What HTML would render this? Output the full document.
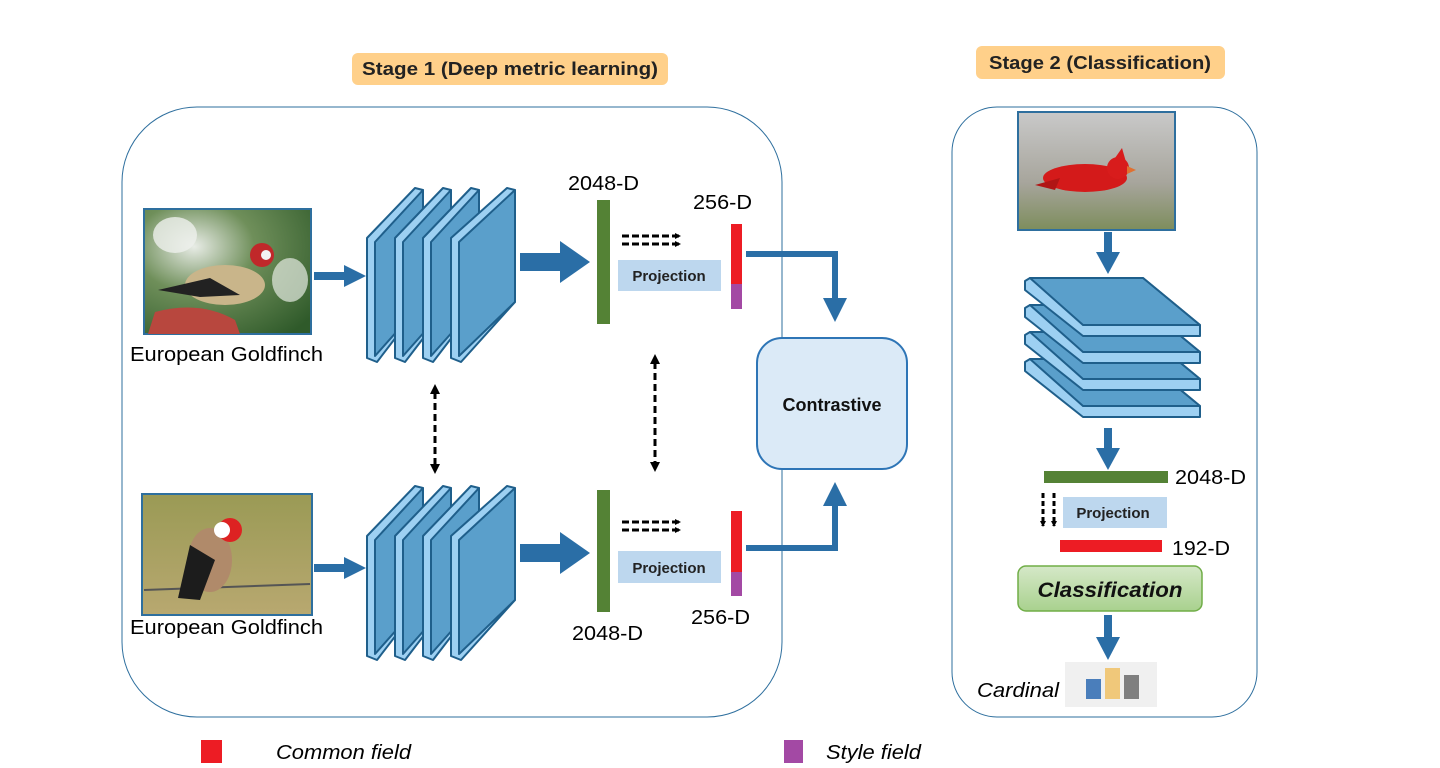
<!DOCTYPE html>
<html><head><meta charset="utf-8"><style>
html,body{margin:0;padding:0;background:#fff;}
svg{display:block;font-family:"Liberation Sans",sans-serif;}
</style></head><body>
<svg width="1440" height="768" viewBox="0 0 1440 768" xmlns="http://www.w3.org/2000/svg">
<defs>
<marker id="ah" markerWidth="6" markerHeight="6" refX="5" refY="3" orient="auto" markerUnits="userSpaceOnUse"><path d="M0,0 L6,3 L0,6z" fill="#000"/></marker>
<radialGradient id="g1" cx="0.3" cy="0.3" r="0.9"><stop offset="0" stop-color="#e8ece6"/><stop offset="0.4" stop-color="#6f8f5a"/><stop offset="1" stop-color="#2f5a2a"/></radialGradient>
<linearGradient id="g2" x1="0" y1="0" x2="0" y2="1"><stop offset="0" stop-color="#9a9a55"/><stop offset="1" stop-color="#b8a870"/></linearGradient>
<linearGradient id="g3" x1="0" y1="0" x2="0" y2="1"><stop offset="0" stop-color="#c9c9c9"/><stop offset="0.6" stop-color="#a7a59c"/><stop offset="1" stop-color="#7d8d5c"/></linearGradient>
<linearGradient id="gc" x1="0" y1="0" x2="0" y2="1"><stop offset="0" stop-color="#d5e8c8"/><stop offset="1" stop-color="#a9d18e"/></linearGradient>
</defs>

<rect x="352" y="53" width="316" height="32" rx="6" fill="#ffd08a"/>
<text x="510" y="75" font-size="18" font-weight="bold" text-anchor="middle" fill="#222" textLength="296" lengthAdjust="spacingAndGlyphs">Stage 1 (Deep metric learning)</text>
<rect x="976" y="46" width="249" height="33" rx="6" fill="#ffd08a"/>
<text x="1100" y="69" font-size="18" font-weight="bold" text-anchor="middle" fill="#222" textLength="222" lengthAdjust="spacingAndGlyphs">Stage 2 (Classification)</text>

<rect x="122" y="107" width="660" height="610" rx="75" fill="none" stroke="#2e6f9e" stroke-width="1"/>
<rect x="952" y="107" width="305" height="610" rx="45" fill="none" stroke="#2e6f9e" stroke-width="1"/>

<rect x="144" y="209" width="167" height="125" fill="url(#g1)" stroke="#2e6f9e" stroke-width="2"/>
<ellipse cx="175" cy="235" rx="22" ry="18" fill="#eef0ec" opacity="0.8"/>
<ellipse cx="290" cy="280" rx="18" ry="22" fill="#e6ebe2" opacity="0.7"/>
<path d="M148,334 L155,312 Q200,300 235,320 L240,334z" fill="#b8473e"/>
<ellipse cx="225" cy="285" rx="40" ry="20" fill="#c9b58a"/>
<path d="M158,290 L210,278 L240,295 L200,297z" fill="#222"/>
<circle cx="262" cy="255" r="12" fill="#c0282a"/>
<circle cx="266" cy="255" r="5" fill="#f2f2f2"/>
<text x="130" y="361" font-size="20" fill="#000" textLength="193" lengthAdjust="spacingAndGlyphs">European Goldfinch</text>

<rect x="142" y="494" width="170" height="121" fill="url(#g2)" stroke="#2e6f9e" stroke-width="2"/>
<line x1="144" y1="590" x2="310" y2="584" stroke="#555" stroke-width="2"/>
<ellipse cx="210" cy="560" rx="22" ry="32" fill="#b08a6a"/>
<path d="M190,545 L215,560 L200,600 L178,598z" fill="#1c1c1c"/>
<circle cx="230" cy="530" r="12" fill="#d22"/>
<circle cx="222" cy="530" r="8" fill="#fff"/>
<text x="130" y="634" font-size="20" fill="#000" textLength="193" lengthAdjust="spacingAndGlyphs">European Goldfinch</text>

<g fill="#2a6ea6">
<rect x="314" y="272" width="32" height="8"/><path d="M344,265 L366,276 L344,287z"/>
<rect x="314" y="564" width="32" height="8"/><path d="M344,557 L366,568 L344,579z"/>
</g>

<g id="stack" stroke="#1f5f8b" stroke-width="2" stroke-linejoin="round">
<g transform="translate(367,186)">
<path d="M0,52 L48,2 L56,4 L56,116 L10,176 L0,172z" fill="#9dd0f2"/><path d="M8,56 L56,4 L56,116 L8,170z" fill="#5a9fcb"/></g>
<g transform="translate(395,186)">
<path d="M0,52 L48,2 L56,4 L56,116 L10,176 L0,172z" fill="#9dd0f2"/><path d="M8,56 L56,4 L56,116 L8,170z" fill="#5a9fcb"/></g>
<g transform="translate(423,186)">
<path d="M0,52 L48,2 L56,4 L56,116 L10,176 L0,172z" fill="#9dd0f2"/><path d="M8,56 L56,4 L56,116 L8,170z" fill="#5a9fcb"/></g>
<g transform="translate(451,186)">
<path d="M0,52 L56,2 L64,4 L64,116 L10,176 L0,172z" fill="#9dd0f2"/><path d="M8,56 L64,4 L64,116 L8,170z" fill="#5a9fcb"/></g>
</g>
<use href="#stack" transform="translate(0,298)"/>

<g fill="#2a6ea6">
<rect x="520" y="253" width="42" height="18"/><path d="M560,241 L590,262 L560,283z"/>
<rect x="520" y="544" width="42" height="18"/><path d="M560,532 L590,553 L560,574z"/>
</g>

<rect x="597" y="200" width="13" height="124" fill="#548235"/>
<text x="568" y="190" font-size="20" textLength="71" lengthAdjust="spacingAndGlyphs">2048-D</text>
<line x1="622" y1="236" x2="680" y2="236" stroke="#000" stroke-width="3" stroke-dasharray="7,3" marker-end="url(#ah)"/>
<line x1="622" y1="244" x2="680" y2="244" stroke="#000" stroke-width="3" stroke-dasharray="7,3" marker-end="url(#ah)"/>
<rect x="618" y="260" width="103" height="31" fill="#bdd7ee"/>
<text x="669" y="281" font-size="15" font-weight="bold" text-anchor="middle" fill="#222">Projection</text>
<rect x="731" y="224" width="11" height="60" fill="#ed1c24"/><rect x="731" y="284" width="11" height="25" fill="#a349a4"/>
<text x="693" y="209" font-size="20" textLength="59" lengthAdjust="spacingAndGlyphs">256-D</text>
<path d="M746,254 L835,254 L835,302" fill="none" stroke="#2a6ea6" stroke-width="6"/>
<path d="M823,298 L835,322 L847,298z" fill="#2a6ea6"/>

<rect x="597" y="490" width="13" height="122" fill="#548235"/>
<text x="572" y="640" font-size="20" textLength="71" lengthAdjust="spacingAndGlyphs">2048-D</text>
<line x1="622" y1="522" x2="680" y2="522" stroke="#000" stroke-width="3" stroke-dasharray="7,3" marker-end="url(#ah)"/>
<line x1="622" y1="530" x2="680" y2="530" stroke="#000" stroke-width="3" stroke-dasharray="7,3" marker-end="url(#ah)"/>
<rect x="618" y="551" width="103" height="32" fill="#bdd7ee"/>
<text x="669" y="573" font-size="15" font-weight="bold" text-anchor="middle" fill="#222">Projection</text>
<rect x="731" y="511" width="11" height="61" fill="#ed1c24"/><rect x="731" y="572" width="11" height="24" fill="#a349a4"/>
<text x="691" y="624" font-size="20" textLength="59" lengthAdjust="spacingAndGlyphs">256-D</text>
<path d="M746,548 L835,548 L835,502" fill="none" stroke="#2a6ea6" stroke-width="6"/>
<path d="M823,506 L835,482 L847,506z" fill="#2a6ea6"/>

<rect x="757" y="338" width="150" height="131" rx="25" fill="#dbeaf7" stroke="#2e75b6" stroke-width="2"/>
<text x="832" y="411" font-size="18" font-weight="bold" text-anchor="middle" fill="#111">Contrastive</text>

<g stroke="#000" stroke-width="3" stroke-dasharray="7,4">
<line x1="435" y1="392" x2="435" y2="466"/>
<line x1="655" y1="362" x2="655" y2="464"/>
</g>
<g fill="#000">
<path d="M430,394 L435,384 L440,394z"/><path d="M430,464 L435,474 L440,464z"/>
<path d="M650,364 L655,354 L660,364z"/><path d="M650,462 L655,472 L660,462z"/>
</g>

<rect x="1018" y="112" width="157" height="118" fill="url(#g3)" stroke="#2e6f9e" stroke-width="2"/>
<ellipse cx="1085" cy="178" rx="42" ry="14" fill="#d41a1a"/>
<path d="M1035,185 L1060,178 L1055,190z" fill="#b01515"/>
<circle cx="1118" cy="168" r="11" fill="#d81c1c"/>
<path d="M1115,158 L1122,148 L1126,162z" fill="#d81c1c"/>
<path d="M1127,166 L1136,170 L1127,174z" fill="#e07030"/>
<g fill="#2a6ea6">
<rect x="1104" y="232" width="8" height="22"/><path d="M1096,252 L1108,274 L1120,252z"/>
<rect x="1104" y="428" width="8" height="22"/><path d="M1096,448 L1108,470 L1120,448z"/>
<rect x="1104" y="615" width="8" height="24"/><path d="M1096,637 L1108,660 L1120,637z"/>
</g>
<g stroke="#1f5f8b" stroke-width="2" stroke-linejoin="round">
<path d="M1025,362 L1030,359 L1143,359 L1200,406 L1200,417 L1083,417 L1025,371z" fill="#9dd0f2"/>
<path d="M1030,359 L1143,359 L1200,406 L1083,406z" fill="#5a9fcb"/>
<path d="M1025,335 L1030,332 L1143,332 L1200,379 L1200,390 L1083,390 L1025,344z" fill="#9dd0f2"/>
<path d="M1030,332 L1143,332 L1200,379 L1083,379z" fill="#5a9fcb"/>
<path d="M1025,308 L1030,305 L1143,305 L1200,352 L1200,363 L1083,363 L1025,317z" fill="#9dd0f2"/>
<path d="M1030,305 L1143,305 L1200,352 L1083,352z" fill="#5a9fcb"/>
<path d="M1025,281 L1030,278 L1143,278 L1200,325 L1200,336 L1083,336 L1025,290z" fill="#9dd0f2"/>
<path d="M1030,278 L1143,278 L1200,325 L1083,325z" fill="#5a9fcb"/>
</g>

<rect x="1044" y="471" width="124" height="12" fill="#548235"/>
<text x="1175" y="484" font-size="20" textLength="71" lengthAdjust="spacingAndGlyphs">2048-D</text>
<line x1="1043" y1="493" x2="1043" y2="526" stroke="#000" stroke-width="3" stroke-dasharray="5,3" marker-end="url(#ah)"/>
<line x1="1054" y1="493" x2="1054" y2="526" stroke="#000" stroke-width="3" stroke-dasharray="5,3" marker-end="url(#ah)"/>
<rect x="1063" y="497" width="104" height="31" fill="#bdd7ee"/>
<text x="1113" y="518" font-size="15" font-weight="bold" text-anchor="middle" fill="#222">Projection</text>
<rect x="1060" y="540" width="102" height="12" fill="#ed1c24"/>
<text x="1172" y="555" font-size="20" textLength="58" lengthAdjust="spacingAndGlyphs">192-D</text>
<rect x="1018" y="566" width="184" height="45" rx="8" fill="url(#gc)" stroke="#70ad47" stroke-width="1.5"/>
<text x="1110" y="597" font-size="21" font-weight="bold" font-style="italic" text-anchor="middle" fill="#111" textLength="145" lengthAdjust="spacingAndGlyphs">Classification</text>
<rect x="1065" y="662" width="92" height="45" fill="#f0f0f0"/>
<rect x="1086" y="679" width="15" height="20" fill="#4a7ebb"/>
<rect x="1105" y="668" width="15" height="31" fill="#f0c87a"/>
<rect x="1124" y="675" width="15" height="24" fill="#7f7f7f"/>
<text x="977" y="697" font-size="20" font-style="italic" textLength="82" lengthAdjust="spacingAndGlyphs">Cardinal</text>

<rect x="201" y="740" width="21" height="23" fill="#ed1c24"/>
<text x="276" y="759" font-size="20" font-style="italic" textLength="135" lengthAdjust="spacingAndGlyphs">Common field</text>
<rect x="784" y="740" width="19" height="23" fill="#a349a4"/>
<text x="826" y="759" font-size="20" font-style="italic" textLength="95" lengthAdjust="spacingAndGlyphs">Style field</text>
</svg>
</body></html>
